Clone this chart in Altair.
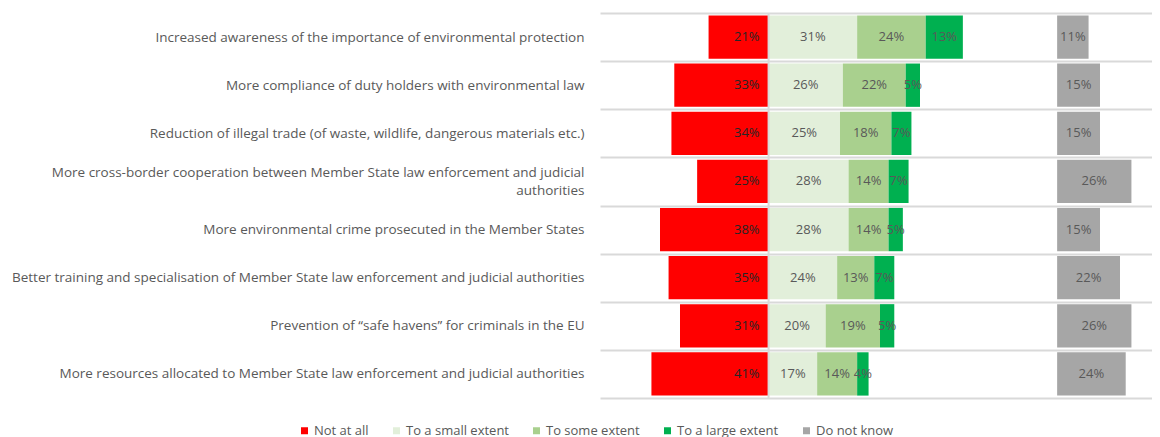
import altair as alt
import pandas as pd

categories = [
    "Increased awareness of the importance of environmental protection",
    "More compliance of duty holders with environmental law",
    "Reduction of illegal trade (of waste, wildlife, dangerous materials etc.)",
    "More cross-border cooperation between Member State law enforcement and judicial|authorities",
    "More environmental crime prosecuted in the Member States",
    "Better training and specialisation of Member State law enforcement and judicial authorities",
    "Prevention of \u201csafe havens\u201d for criminals in the EU",
    "More resources allocated to Member State law enforcement and judicial authorities",
]
not_at_all = [21, 33, 34, 25, 38, 35, 31, 41]
small_extent = [31, 26, 25, 28, 28, 24, 20, 17]
some_extent = [24, 22, 18, 14, 14, 13, 19, 14]
large_extent = [13, 5, 7, 7, 5, 7, 5, 4]
do_not_know = [11, 15, 15, 26, 15, 22, 26, 24]

series = ["Not at all", "To a small extent", "To some extent", "To a large extent", "Do not know"]
colors = ["#FF0000", "#E2EFDA", "#A9D08E", "#00B050", "#A6A6A6"]
DK_OFFSET = 101

rows = []
for i, c in enumerate(categories):
    rows.append(dict(cat=c, series=series[0], v=not_at_all[i], x0=-not_at_all[i], x1=0))
    s = 0
    for name, vals in zip(series[1:4], [small_extent, some_extent, large_extent]):
        v = vals[i]
        rows.append(dict(cat=c, series=name, v=v, x0=s, x1=s + v))
        s += v
    rows.append(dict(cat=c, series=series[4], v=do_not_know[i], x0=DK_OFFSET, x1=DK_OFFSET + do_not_know[i]))
df = pd.DataFrame(rows)
df["mid"] = (df["x0"] + df["x1"]) / 2
df["lbl"] = df["v"].astype(str) + "%"

FONT = "Open Sans"
FS = 13
xscale = alt.Scale(domain=[-59, 134.2], nice=False, zero=False)
yscale = alt.Scale(domain=categories, paddingInner=0, paddingOuter=0)

base = alt.Chart(df)

bars = base.mark_bar(height={"band": 0.9}).encode(
    x=alt.X("x0:Q", scale=xscale, axis=None),
    x2="x1:Q",
    y=alt.Y("cat:N", scale=yscale, sort=categories, title=None,
            axis=alt.Axis(labelExpr="split(datum.label, '|')", labelFontSize=13.5,
                          labelColor="#595959", labelFont=FONT, labelLimit=600,
                          labelPadding=16, labelLineHeight=18, ticks=False, domain=False,
                          labelOffset={"condition": {"test": "indexof(datum.label, '|') >= 0", "value": -9}, "value": 0},
                          grid=True, gridColor="#D9D9D9", gridWidth=2, tickBand="extent")),
    color=alt.Color("series:N", scale=alt.Scale(domain=series, range=colors), sort=series,
                    legend=alt.Legend(title=None, orient="none", direction="horizontal",
                                      legendX=-302, legendY=411, symbolType="square",
                                      symbolSize=49, symbolStrokeWidth=0, labelFontSize=FS,
                                      labelFont=FONT, labelColor="#595959", columnPadding=21,
                                      labelOffset=3, columns=5)),
)

zero = alt.Chart(pd.DataFrame({"z": [0]})).mark_rule(color="#D9D9D9", strokeWidth=2).encode(
    x=alt.X("z:Q", scale=xscale)
)

red_txt = base.transform_filter(alt.datum.series == "Not at all").mark_text(
    align="right", dx=-9, fontSize=FS, font=FONT, color="#262626"
).encode(x=alt.X("x1:Q", scale=xscale), y=alt.Y("cat:N", scale=yscale, sort=categories), text="lbl:N")

other_txt = base.transform_filter(alt.datum.series != "Not at all").mark_text(
    align="center", fontSize=FS, font=FONT, color="#595959"
).encode(x=alt.X("mid:Q", scale=xscale), y=alt.Y("cat:N", scale=yscale, sort=categories), text="lbl:N")

chart = alt.layer(bars, zero, red_txt, other_txt).properties(
    width=552, height=385,
    autosize=alt.AutoSizeParams(type="none"),
    padding={"left": 592, "top": 5, "right": 0, "bottom": 40},
).configure_view(stroke=None)

chart.save("out.html", embed_options={"renderer": "svg", "actions": False})
